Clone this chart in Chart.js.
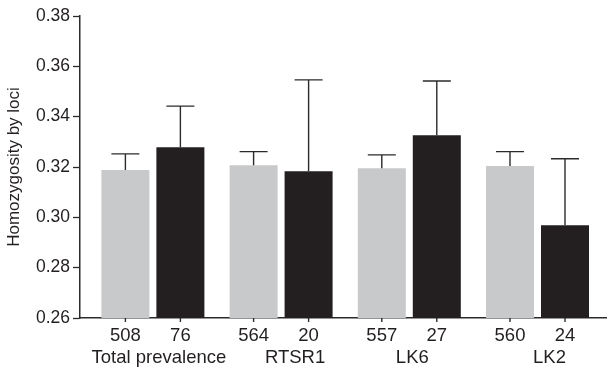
<!DOCTYPE html>
<html>
<head>
<meta charset="utf-8">
<script src="https://cdn.jsdelivr.net/npm/chart.js@4"></script>
<style>
  html, body { margin: 0; padding: 0; background: #fff; }
  #wrap { width: 607px; height: 369px; }
</style>
</head>
<body>
<div id="wrap"><canvas id="chart" width="607" height="369"></canvas></div>
<script>
// datos
const groups = ['Total prevalence', 'RTSR1', 'LK6', 'LK2'];
const controlN = [508, 564, 557, 560];
const caseN = [76, 20, 27, 24];
const controlMean = [0.3188, 0.3207, 0.3195, 0.3204];
const caseMean = [0.3278, 0.3183, 0.3326, 0.2969];
const controlUpper = [0.3252, 0.3261, 0.3248, 0.3261];
const caseUpper = [0.3442, 0.3546, 0.3542, 0.3233];
const yMin = 0.26, yMax = 0.38, yStep = 0.02;

const ink = '#231f20';
const font = 'Liberation Sans, Arial, Helvetica, sans-serif';

// barras de error (solo hacia arriba), marcas y etiquetas del eje x
const extras = {
  id: 'extras',
  afterDatasetsDraw(chart, args, opts) {
    const ctx = chart.ctx;
    const y = chart.scales.y;
    const bottom = chart.chartArea.bottom;
    const uppers = [controlUpper, caseUpper];
    const counts = [controlN, caseN];
    ctx.save();
    ctx.strokeStyle = '#2b2b2b';
    ctx.lineWidth = 1.4;
    chart.data.datasets.forEach((ds, d) => {
      const meta = chart.getDatasetMeta(d);
      meta.data.forEach((bar, i) => {
        const top = y.getPixelForValue(uppers[d][i]);
        ctx.beginPath();
        ctx.moveTo(bar.x, bar.y);
        ctx.lineTo(bar.x, top);
        ctx.moveTo(bar.x - 14, top);
        ctx.lineTo(bar.x + 14, top);
        ctx.stroke();
        // marca en el eje x
        ctx.beginPath();
        ctx.moveTo(bar.x, bottom);
        ctx.lineTo(bar.x, bottom + 4);
        ctx.stroke();
        ctx.fillStyle = ink;
        ctx.font = '18.5px ' + font;
        ctx.textAlign = 'center';
        ctx.textBaseline = 'alphabetic';
        ctx.fillText(String(counts[d][i]), bar.x, bottom + 23);
      });
    });
    const x = chart.scales.x;
    groups.forEach((g, i) => {
      ctx.fillText(g, x.getPixelForValue(i) + opts.shift[i], bottom + 45);
    });
    ctx.restore();
  }
};

new Chart(document.getElementById('chart'), {
  type: 'bar',
  data: {
    labels: groups,
    datasets: [
      { label: 'control', data: controlMean, backgroundColor: '#c8c9cb', categoryPercentage: 0.858, barPercentage: 0.873 },
      { label: 'case', data: caseMean, backgroundColor: ink, categoryPercentage: 0.858, barPercentage: 0.873 }
    ]
  },
  options: {
    responsive: false,
    animation: false,
    layout: { padding: { top: 16, right: 0, bottom: 0, left: 0 } },
    plugins: {
      legend: { display: false },
      tooltip: { enabled: false },
      extras: { shift: [6, 14, 3, 12] }
    },
    scales: {
      x: {
        grid: { display: false },
        ticks: { display: false },
        border: { color: '#2b2b2b', width: 1.5 },
        afterFit: s => { s.height = 51; },
        // deja un margen a cada lado como en la figura
        afterBuildTicks: s => { s._startValue = -0.5686; s._valueRange = 4.1107; }
      },
      y: {
        min: yMin,
        max: yMax,
        afterFit: s => { s.width = 80; },
        ticks: {
          stepSize: yStep,
          color: ink,
          padding: 3,
          font: { size: 17.5, family: font },
          callback: v => v.toFixed(2)
        },
        grid: { drawOnChartArea: false, tickLength: 7, tickColor: '#2b2b2b', tickWidth: 1.3 },
        border: { color: '#2b2b2b', width: 1.5 },
        title: {
          display: true,
          text: 'Homozygosity by loci',
          color: ink,
          padding: { top: 4, bottom: 0 },
          font: { size: 17, family: font }
        }
      }
    }
  },
  plugins: [extras]
});
</script>
</body>
</html>
